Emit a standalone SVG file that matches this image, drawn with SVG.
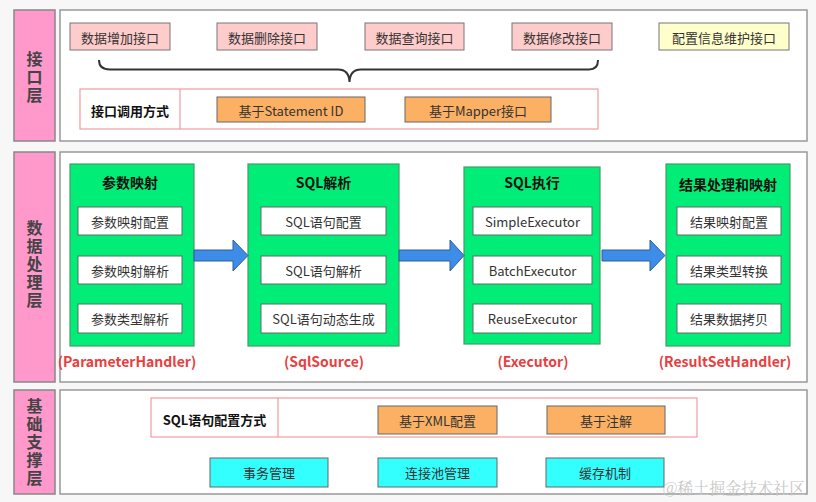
<svg xmlns="http://www.w3.org/2000/svg" width="816" height="502" viewBox="0 0 816 502">
<style>
text{font-family:"Noto Sans CJK SC","Microsoft YaHei","Liberation Sans",sans-serif;dominant-baseline:central;text-anchor:middle;fill:#333}
.layer{fill:#ff99cc;stroke:#888;stroke-width:1.5}
.panel{fill:#fff;stroke:#999;stroke-width:1.5}
.lt{font-size:16px;font-weight:bold;fill:#444;writing-mode:vertical-rl;letter-spacing:2px}
.pink{fill:#ffcccc;stroke:#777;stroke-width:1}
.yel{fill:#ffffcc;stroke:#777;stroke-width:1}
.org{fill:#fbb063;stroke:#666;stroke-width:1}
.cyan{fill:#33ffff;stroke:#666;stroke-width:1}
.row{fill:#fff;stroke:#f29ba0;stroke-width:1.2}
.green{fill:#00ee77;stroke:#4a9a66;stroke-width:1.2}
.sub{fill:#fff;stroke:#666;stroke-width:1}
.t13{font-size:13px}
.b13{font-size:13px;font-weight:bold;fill:#111}
.b14{font-size:14px;font-weight:bold;fill:#111}
.red{font-size:14px;font-weight:bold;fill:#e8403f}
.arrow{fill:#3d8de8;stroke:#2c5f9e;stroke-width:1}
</style>
<rect x="0" y="0" width="816" height="502" fill="#f7f7f7"/>

<g id="layer-interface">
<rect class="layer" x="14" y="10" width="41" height="131"/>
<text class="lt" x="34.5" y="78">接口层</text>
<rect class="panel" x="60" y="10" width="747" height="131"/>
</g>
<g id="api-add"><rect class="pink" x="70" y="23" width="100" height="27"/><text class="t13" x="120" y="37">数据增加接口</text></g>
<g id="api-del"><rect class="pink" x="217" y="23" width="100" height="27"/><text class="t13" x="267" y="37">数据删除接口</text></g>
<g id="api-query"><rect class="pink" x="365" y="23" width="99" height="27"/><text class="t13" x="414.5" y="37">数据查询接口</text></g>
<g id="api-update"><rect class="pink" x="512" y="23" width="100" height="27"/><text class="t13" x="562" y="37">数据修改接口</text></g>
<g id="api-config"><rect class="yel" x="659" y="23" width="130" height="27"/><text class="t13" x="724" y="37">配置信息维护接口</text></g>
<g id="brace"><path d="M99,60 Q99,69.5 110,69.5 L338,69.5 Q349,69.5 349.5,82 Q350,69.5 361,69.5 L589,69.5 Q598,69.5 598,60" fill="none" stroke="#333" stroke-width="2"/></g>
<g id="call-method">
<rect class="row" x="80" y="89" width="518" height="40"/>
<line x1="180" y1="89" x2="180" y2="129" stroke="#f29ba0" stroke-width="1.2"/>
<text class="b13" x="130" y="110">接口调用方式</text>
</g>
<g id="by-statement"><rect class="org" x="217" y="97" width="148" height="25"/><text class="t13" x="291" y="110">基于Statement ID</text></g>
<g id="by-mapper"><rect class="org" x="405" y="97" width="146" height="25"/><text class="t13" x="478" y="110">基于Mapper接口</text></g>

<g id="layer-data">
<rect class="layer" x="14" y="152" width="41" height="230"/>
<text class="lt" x="34.5" y="265">数据处理层</text>
<rect class="panel" x="60" y="152" width="747" height="230"/>
</g>
<g id="param-map">
<rect class="green" x="70" y="164" width="124" height="182"/>
<text class="b14" x="130" y="182">参数映射</text>
<rect class="sub" x="78" y="207" width="104" height="28"/><text class="t13" x="130" y="221">参数映射配置</text>
<rect class="sub" x="78" y="256" width="104" height="28"/><text class="t13" x="130" y="270">参数映射解析</text>
<rect class="sub" x="78" y="304" width="104" height="29"/><text class="t13" x="130" y="318.5">参数类型解析</text>
<text class="red" x="127" y="361">(ParameterHandler)</text>
</g>
<g id="sql-parse">
<rect class="green" x="248" y="164" width="151" height="182"/>
<text class="b14" x="323.5" y="182">SQL解析</text>
<rect class="sub" x="261" y="207" width="125" height="28"/><text class="t13" x="323.5" y="221">SQL语句配置</text>
<rect class="sub" x="261" y="256" width="125" height="28"/><text class="t13" x="323.5" y="270">SQL语句解析</text>
<rect class="sub" x="261" y="304" width="125" height="29"/><text class="t13" x="323.5" y="318.5">SQL语句动态生成</text>
<text class="red" x="324" y="361">(SqlSource)</text>
</g>
<g id="sql-exec">
<rect class="green" x="464" y="167" width="136" height="177"/>
<text class="b14" x="532" y="182">SQL执行</text>
<rect class="sub" x="473" y="207" width="119" height="28"/><text class="t13" x="532.5" y="221">SimpleExecutor</text>
<rect class="sub" x="473" y="256" width="119" height="28"/><text class="t13" x="532.5" y="270">BatchExecutor</text>
<rect class="sub" x="473" y="304" width="119" height="29"/><text class="t13" x="532.5" y="318.5">ReuseExecutor</text>
<text class="red" x="533" y="361">(Executor)</text>
</g>
<g id="result-map">
<rect class="green" x="666" y="164" width="124" height="182"/>
<text class="b14" x="728" y="184">结果处理和映射</text>
<rect class="sub" x="677" y="207" width="104" height="28"/><text class="t13" x="729" y="221">结果映射配置</text>
<rect class="sub" x="677" y="256" width="104" height="28"/><text class="t13" x="729" y="270">结果类型转换</text>
<rect class="sub" x="677" y="304" width="104" height="29"/><text class="t13" x="729" y="318.5">结果数据拷贝</text>
<text class="red" x="725" y="361">(ResultSetHandler)</text>
</g>
<g id="connectors">
<polygon class="arrow" points="194,250 233,250 233,240 248,255.5 233,271 233,261 194,261"/>
<polygon class="arrow" points="399,250 450,250 450,240 464,255.5 450,271 450,261 399,261"/>
<polygon class="arrow" points="602,250 650,250 650,240 665,255.5 650,271 650,261 602,261"/>
</g>

<g id="layer-base">
<rect class="layer" x="14" y="390" width="41" height="104"/>
<text class="lt" x="34.5" y="443">基础支撑层</text>
<rect class="panel" x="60" y="390" width="747" height="104"/>
</g>
<g id="sql-config">
<rect class="row" x="151" y="398" width="546" height="39"/>
<line x1="278" y1="398" x2="278" y2="437" stroke="#f29ba0" stroke-width="1.2"/>
<text class="b13" x="214.5" y="419">SQL语句配置方式</text>
</g>
<g id="by-xml"><rect class="org" x="378" y="406" width="119" height="28"/><text class="t13" x="437.5" y="420">基于XML配置</text></g>
<g id="by-annotation"><rect class="org" x="547" y="406" width="118" height="28"/><text class="t13" x="606" y="420">基于注解</text></g>
<g id="transaction"><rect class="cyan" x="210" y="458" width="118" height="29"/><text class="t13" x="269" y="472.5">事务管理</text></g>
<g id="pool"><rect class="cyan" x="378" y="458" width="119" height="29"/><text class="t13" x="437.5" y="472.5">连接池管理</text></g>
<g id="cache"><rect class="cyan" x="546" y="458" width="118" height="29"/><text class="t13" x="605" y="472.5">缓存机制</text></g>
<text x="734" y="487" style="font-family:'Noto Serif CJK SC','Noto Sans CJK SC',serif;font-size:16px;fill:#c8c8c8">@稀土掘金技术社区</text>
</svg>
